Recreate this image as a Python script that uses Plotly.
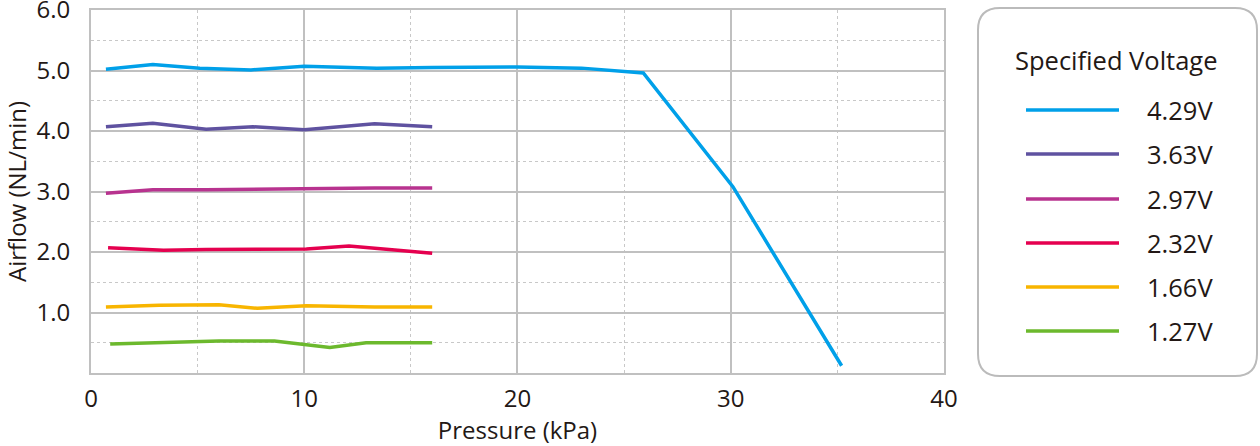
import plotly.graph_objects as go

# ---- data ----
labels = ["4.29V", "3.63V", "2.97V", "2.32V", "1.66V", "1.27V"]
colors = ["#00a0e9", "#5f52a0", "#b8338f", "#e5004f", "#f8b500", "#6cb92d"]

x_429 = [0.7, 2.9, 5.1, 7.5, 10.0, 13.4, 16.0, 20.0, 23.0, 25.9, 30.1, 35.2]
y_429 = [5.02, 5.10, 5.04, 5.01, 5.07, 5.04, 5.05, 5.06, 5.04, 4.96, 3.08, 0.12]

x_363 = [0.7, 2.9, 5.4, 7.6, 10.0, 13.3, 16.0]
y_363 = [4.07, 4.13, 4.03, 4.07, 4.02, 4.12, 4.07]

x_297 = [0.7, 2.9, 5.4, 7.6, 10.0, 13.3, 16.0]
y_297 = [2.97, 3.03, 3.03, 3.04, 3.04, 3.06, 3.06]

x_232 = [0.8, 3.4, 5.4, 7.6, 10.1, 12.1, 16.0]
y_232 = [2.07, 2.03, 2.04, 2.04, 2.05, 2.10, 1.98]

x_166 = [0.7, 3.2, 6.0, 7.8, 10.1, 13.3, 16.0]
y_166 = [1.09, 1.12, 1.13, 1.07, 1.11, 1.09, 1.09]

x_127 = [0.9, 3.0, 6.0, 8.6, 11.2, 12.9, 16.0]
y_127 = [0.48, 0.50, 0.53, 0.53, 0.42, 0.50, 0.50]

xs = [x_429, x_363, x_297, x_232, x_166, x_127]
ys = [y_429, y_363, y_297, y_232, y_166, y_127]

x_ticks = [0, 10, 20, 30, 40]
y_ticks = [1, 2, 3, 4, 5, 6]

# ---- layout geometry (pixels) ----
W, H = 1260, 446
L, R, T, B = 91, 944, 10, 373
FONT = "Open Sans"
TXT = "#231815"
GRID = "#c0c0c0"
FS = 24

def px(x):
    return (x - L) / (R - L)

def py(y):
    return (B - y) / (B - T)

fig = go.Figure()
for xv, yv, c, n in zip(xs, ys, colors, labels):
    fig.add_trace(go.Scatter(x=xv, y=yv, mode="lines", name=n,
                             line=dict(color=c, width=3.5), showlegend=False))

fig.update_layout(
    width=W, height=H,
    margin=dict(l=L, r=W - R, t=T, b=H - B, pad=0, autoexpand=False),
    paper_bgcolor="white", plot_bgcolor="white",
    font=dict(family=FONT, color=TXT, size=FS),
)
fig.update_xaxes(
    range=[0, 40.001], tickvals=x_ticks, ticktext=[str(v) for v in x_ticks],
    showgrid=True, gridcolor=GRID, gridwidth=2,
    minor=dict(dtick=5, showgrid=True, gridcolor="#c8c8c8", griddash="dot", gridwidth=1),
    showline=True, mirror=True, linecolor=GRID, linewidth=2,
    ticks="outside", ticklen=3, tickcolor="rgba(0,0,0,0)", zeroline=False,
    ticklabeloverflow="allow", automargin=False,
    tickfont=dict(size=FS, family=FONT, color=TXT),
    title=dict(text="Pressure (kPa)", font=dict(size=FS, family=FONT, color=TXT), standoff=8),
)
fig.update_yaxes(
    range=[0, 6.001], tickvals=y_ticks, ticktext=[f"{v:.1f}" for v in y_ticks],
    showgrid=True, gridcolor=GRID, gridwidth=2,
    minor=dict(dtick=0.5, showgrid=True, gridcolor="#c8c8c8", griddash="dot", gridwidth=1),
    showline=True, mirror=True, linecolor=GRID, linewidth=2,
    ticks="outside", ticklen=14, tickcolor="rgba(0,0,0,0)", zeroline=False,
    ticklabeloverflow="allow", automargin=False,
    tickfont=dict(size=FS, family=FONT, color=TXT),
    title=dict(text="Airflow (NL/min)", font=dict(size=FS, family=FONT, color=TXT), standoff=4),
)

# ---- custom legend box with rounded corners ----
x0, x1, y0, y1, r = 978, 1257, 8, 376, 22
rx, ry = r / (R - L), r / (B - T)
X0, X1, Y0, Y1 = px(x0), px(x1), py(y1), py(y0)
path = (f"M {X0+rx},{Y0} L {X1-rx},{Y0} Q {X1},{Y0} {X1},{Y0+ry} "
        f"L {X1},{Y1-ry} Q {X1},{Y1} {X1-rx},{Y1} L {X0+rx},{Y1} "
        f"Q {X0},{Y1} {X0},{Y1-ry} L {X0},{Y0+ry} Q {X0},{Y0} {X0+rx},{Y0} Z")
fig.add_shape(type="path", path=path, xref="paper", yref="paper",
              line=dict(color="#bbbbbb", width=2), fillcolor="white", layer="above")

fig.add_annotation(x=px(1116), y=py(60), xref="paper", yref="paper",
                   text="Specified Voltage", showarrow=False,
                   xanchor="center", yanchor="middle",
                   font=dict(size=25.5, family=FONT, color=TXT))
item_y = [110, 154, 199, 243, 287, 331]
for yy, c, n in zip(item_y, colors, labels):
    fig.add_shape(type="line", xref="paper", yref="paper",
                  x0=px(1026), x1=px(1119), y0=py(yy), y1=py(yy),
                  line=dict(color=c, width=3.5), layer="above")
    fig.add_annotation(x=px(1145), y=py(yy), xref="paper", yref="paper",
                       text=n, showarrow=False, xanchor="left", yanchor="middle",
                       font=dict(size=25.5, family=FONT, color=TXT))

fig.write_html("out.html", config={"displayModeBar": False},
               post_script="document.body.style.margin='0px';")
